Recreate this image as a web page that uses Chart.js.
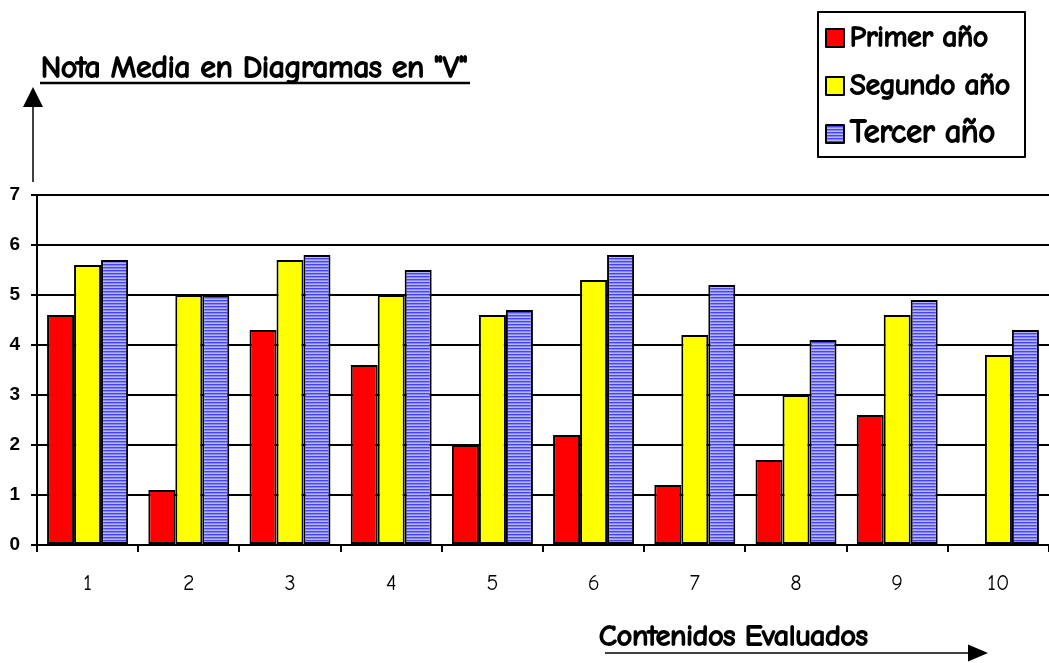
<!DOCTYPE html>
<html>
<head>
<meta charset="utf-8">
<script src="https://cdn.jsdelivr.net/npm/chart.js@4/dist/chart.umd.min.js"></script>
<style>
	html, body { margin: 0; padding: 0; background: #fff; }
	#wrap { width: 1049px; height: 663px; position: relative; }
</style>
</head>
<body>
<div id="wrap"><canvas id="grafico"></canvas></div>
<script>
var CONTENIDOS = ['1', '2', '3', '4', '5', '6', '7', '8', '9', '10'];
var PRIMER_ANO = [4.6, 1.1, 4.3, 3.6, 2.0, 2.2, 1.2, 1.7, 2.6, null];
var SEGUNDO_ANO = [5.6, 5.0, 5.7, 5.0, 4.6, 5.3, 4.2, 3.0, 4.6, 3.8];
var TERCER_ANO = [5.7, 5.0, 5.8, 5.5, 4.7, 5.8, 5.2, 4.1, 4.9, 4.3];
var SERIES_LABELS = ['Primer año', 'Segundo año', 'Tercer año'];

var COMIC = '"Comic Sans MS", "Comic Neue", "DejaVu Sans", sans-serif';
var ARIAL = '"Liberation Sans", Arial, sans-serif';

Chart.defaults.font.family = COMIC;
Chart.defaults.font.size = 22;
Chart.defaults.color = '#000';

// striped blue fill like the original
function stripes() {
	var c = document.createElement('canvas');
	c.width = 4; c.height = 3;
	var ctx = c.getContext('2d');
	ctx.fillStyle = '#4646ec'; ctx.fillRect(0, 0, 4, 1);
	ctx.fillStyle = '#8686ff'; ctx.fillRect(0, 1, 4, 1);
	ctx.fillStyle = '#b6b6ff'; ctx.fillRect(0, 2, 4, 1);
	return ctx.createPattern(c, 'repeat');
}
var azul = stripes();
var COLORS = ['#ff0000', '#ffff00', azul];

function arrow(ctx, x1, y1, x2, y2, head, half) {
	var a = Math.atan2(y2 - y1, x2 - x1);
	var bx = x2 - Math.cos(a) * head, by = y2 - Math.sin(a) * head;
	ctx.beginPath();
	ctx.moveTo(x1, y1);
	ctx.lineTo(bx, by);
	ctx.stroke();
	ctx.beginPath();
	ctx.moveTo(x2, y2);
	ctx.lineTo(bx - Math.sin(a) * half, by + Math.cos(a) * half);
	ctx.lineTo(bx + Math.sin(a) * half, by - Math.cos(a) * half);
	ctx.closePath();
	ctx.fill();
}

// bold-looking text fitted to the width it has in the original
function boldText(ctx, txt, x, y, width) {
	ctx.font = '20px ' + COMIC;
	var size = 20 * (width - 2) / ctx.measureText(txt).width;
	ctx.font = size.toFixed(1) + 'px ' + COMIC;
	ctx.lineWidth = 1.8;
	ctx.lineJoin = 'round';
	ctx.strokeText(txt, x, y);
	ctx.fillText(txt, x, y);
}

var decor = {
	id: 'decor',
	afterDraw: function(chart) {
		var ctx = chart.ctx;
		ctx.save();
		ctx.fillStyle = '#000';
		ctx.strokeStyle = '#000';
		ctx.textAlign = 'left';
		ctx.textBaseline = 'alphabetic';

		// title, underlined
		boldText(ctx, 'Nota Media en Diagramas en "V"', 41, 77, 428);
		ctx.lineWidth = 2.5;
		ctx.beginPath(); ctx.moveTo(40, 83); ctx.lineTo(470, 83); ctx.stroke();

		// y arrow
		ctx.lineWidth = 1.5;
		arrow(ctx, 33, 182, 33, 87, 20, 10);

		// x axis title and arrow
		boldText(ctx, 'Contenidos Evaluados', 599, 645, 271);
		ctx.lineWidth = 1.5;
		arrow(ctx, 605, 653, 988, 653, 20, 8.5);

		// legend
		ctx.lineWidth = 2;
		ctx.strokeRect(818, 12, 207, 145);
		var widths = [140, 162, 147];
		for(var i = 0; i < SERIES_LABELS.length; i++) {
			var cy = 38 + i * 48;
			ctx.fillStyle = COLORS[i];
			ctx.fillRect(826, cy - 9, 18, 18);
			ctx.lineWidth = 2;
			ctx.strokeRect(826, cy - 9, 18, 18);
			ctx.fillStyle = '#000';
			boldText(ctx, SERIES_LABELS[i], 850, cy + 8, widths[i]);
		}
		ctx.restore();
	}
};

new Chart(document.getElementById('grafico'), {
	type: 'bar',
	data: {
		labels: CONTENIDOS,
		datasets: [
			{ label: SERIES_LABELS[0], data: PRIMER_ANO, backgroundColor: COLORS[0] },
			{ label: SERIES_LABELS[1], data: SEGUNDO_ANO, backgroundColor: COLORS[1] },
			{ label: SERIES_LABELS[2], data: TERCER_ANO, backgroundColor: COLORS[2] }
		].map(function(d) {
			d.borderColor = '#000';
			d.borderWidth = 2;
			d.borderSkipped = false;
			d.categoryPercentage = 0.8;
			d.barPercentage = 1.0;
			return d;
		})
	},
	options: {
		responsive: true,
		maintainAspectRatio: false,
		animation: false,
		layout: { padding: { top: 195, left: 0, right: 0, bottom: 0 } },
		plugins: {
			legend: { display: false },
			tooltip: { enabled: false }
		},
		scales: {
			x: {
				grid: { display: true, offset: true, drawOnChartArea: false, color: '#000', lineWidth: 2, tickLength: 7 },
				border: { display: false },
				ticks: { color: '#000', font: { family: COMIC, size: 22 }, padding: 19 },
				afterFit: function(s) { s.height = 118; }
			},
			y: {
				min: 0,
				max: 7,
				ticks: { stepSize: 1, color: '#000', font: { family: ARIAL, size: 19, weight: 'bold' }, padding: 11 },
				grid: { color: '#000', lineWidth: 2, tickLength: 6 },
				border: { display: true, color: '#000', width: 2 },
				afterFit: function(s) { s.width = 37; }
			}
		}
	},
	plugins: [decor]
});
</script>
</body>
</html>
